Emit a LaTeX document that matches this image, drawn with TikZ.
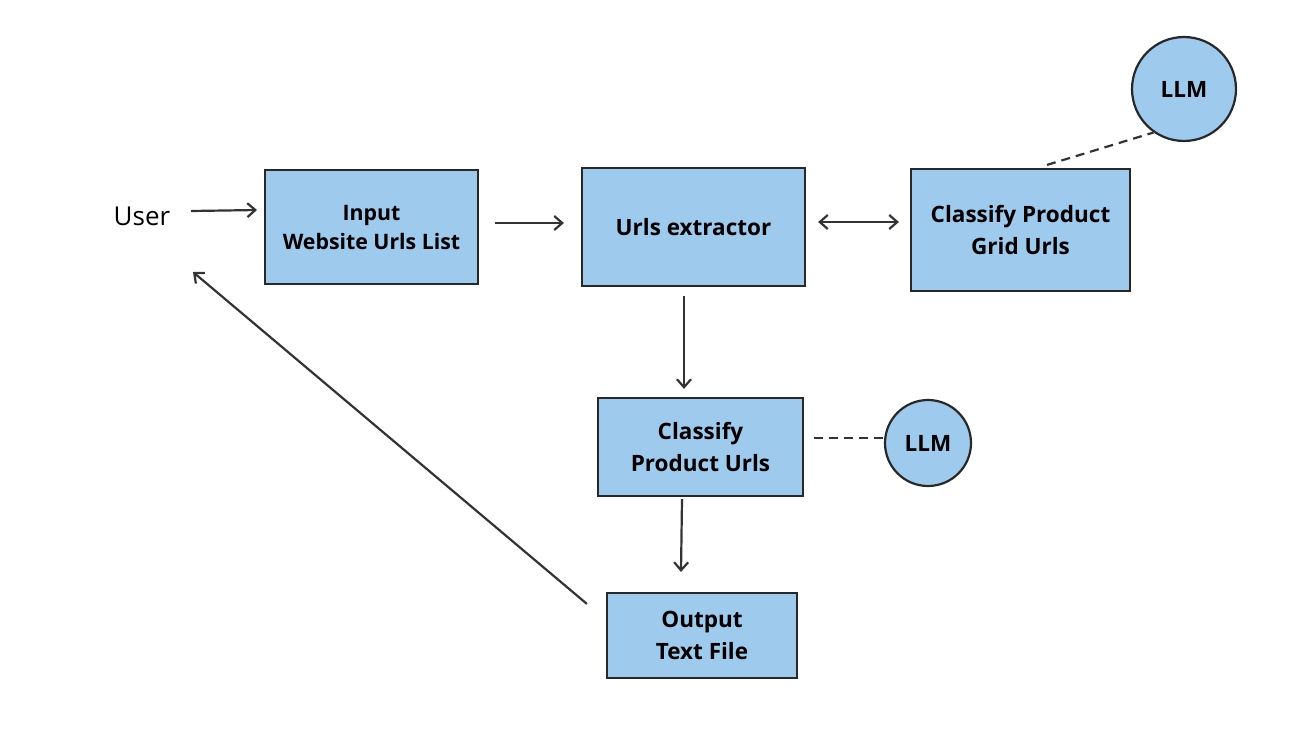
\documentclass[tikz,border=0pt]{standalone}
\usepackage{fontspec}
\setmainfont{Open Sans}
\usetikzlibrary{arrows.meta}
\definecolor{boxblue}{RGB}{158,202,237}
\definecolor{edge}{RGB}{40,40,40}
\definecolor{arr}{RGB}{51,51,51}
\begin{document}
\begin{tikzpicture}[x=1pt,y=-1pt,
  box/.style={draw=edge,line width=2.2pt,fill=boxblue,align=center,inner sep=0pt,
    font=\fontsize{22.5}{31.5}\selectfont\bfseries},
  llm/.style={draw=edge,line width=2.2pt,fill=boxblue,circle,inner sep=0pt,
    font=\fontsize{22.5}{24}\selectfont\bfseries},
  conn/.style={draw=arr,line width=2.2pt,-{Straight Barb[length=8pt,width=14pt]}},
  biconn/.style={draw=arr,line width=2.2pt,{Straight Barb[length=8pt,width=14pt]}-{Straight Barb[length=8pt,width=14pt]}},
  dashline/.style={draw=arr,line width=2.2pt,dash pattern=on 9pt off 6pt}
]
\useasboundingbox (0,0) rectangle (1293,729);
\node[font=\fontsize{26}{30}\selectfont] (user) at (142,216) {User};
\node[box,font=\fontsize{21.3}{29}\selectfont\bfseries,minimum width=213pt,minimum height=114pt] (input) at (371.5,227) {Input\\Website Urls List};
\node[box,minimum width=223pt,minimum height=118pt] (urls) at (693.5,227) {Urls extractor};
\node[box,minimum width=219pt,minimum height=122pt] (grid) at (1020.5,230) {Classify Product\\Grid Urls};
\node[llm,minimum size=104pt] (llm1) at (1184,89) {LLM};
\node[box,minimum width=205pt,minimum height=98pt] (cpu) at (700.5,447) {Classify\\Product Urls};
\node[llm,minimum size=86pt] (llm2) at (928,443) {LLM};
\node[box,minimum width=190pt,minimum height=85pt] (out) at (702,635.5) {Output\\Text File};
\coordinate (a1) at (191,211);
\coordinate (a2) at (257,210);
\draw[conn] (a1) -- (a2);
\draw[conn] ([yshift=4pt,xshift=16pt]input.east) -- ([yshift=4pt,xshift=-17pt]urls.west);
\draw[biconn] ([yshift=5pt,xshift=12pt]urls.east) -- ([yshift=8pt,xshift=-11pt]grid.west);
\draw[conn] ([xshift=-9.5pt,yshift=-9pt]urls.south) -- ([xshift=-16.5pt,yshift=8pt]cpu.north);
\draw[conn] ([xshift=-18.5pt,yshift=-2pt]cpu.south) -- ([xshift=-21pt,yshift=20pt]out.north);
\coordinate (u2) at (193,272);
\draw[conn] ([xshift=-19pt,yshift=-12pt]out.north west) -- (u2);
\draw[dashline] ([xshift=26.5pt,yshift=3pt]grid.north) -- (llm1.235);
\draw[dashline] ([xshift=10pt,yshift=9pt]cpu.east) -- ([yshift=5pt]llm2.west);
\end{tikzpicture}
\end{document}
